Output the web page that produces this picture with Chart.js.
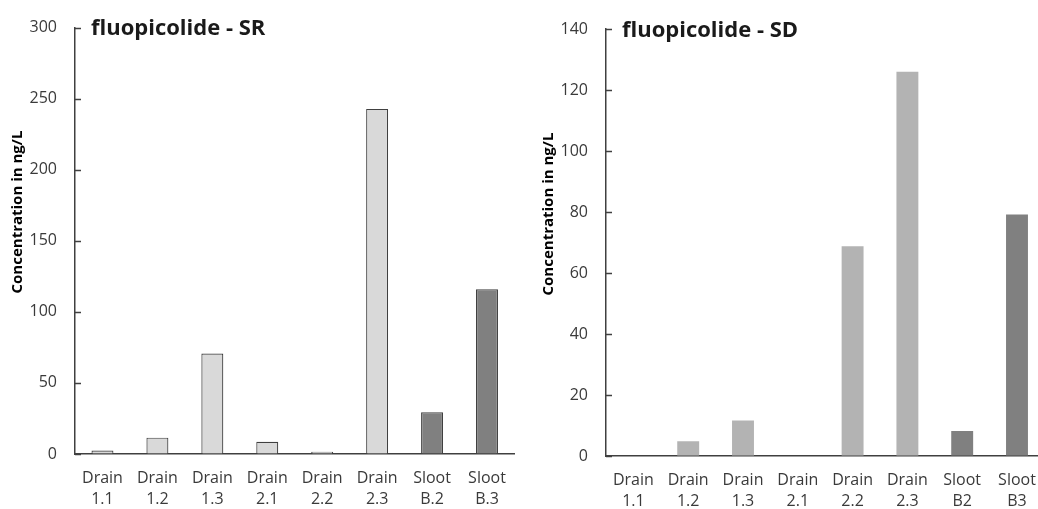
<!DOCTYPE html>
<html>
<head>
<meta charset="utf-8">
<script src="https://cdn.jsdelivr.net/npm/chart.js@4"></script>
<style>
  body { margin: 0; background: #fff; }
  .wrap { display: flex; width: 1038px; height: 509px; overflow: hidden; }
  canvas { display: block; flex: none; }
</style>
</head>
<body>
<div class="wrap">
  <canvas id="chartSR" width="520" height="509"></canvas>
  <canvas id="chartSD" width="530" height="509"></canvas>
</div>
<script>
// data
const srLabels = [['Drain', '1.1'], ['Drain', '1.2'], ['Drain', '1.3'], ['Drain', '2.1'], ['Drain', '2.2'], ['Drain', '2.3'], ['Sloot', 'B.2'], ['Sloot', 'B.3']];
const srValues = [2.4, 11.5, 70.7, 8.6, 1.6, 242.8, 29.3, 115.9];
const srTicks = [0, 50, 100, 150, 200, 250, 300];

const sdLabels = [['Drain', '1.1'], ['Drain', '1.2'], ['Drain', '1.3'], ['Drain', '2.1'], ['Drain', '2.2'], ['Drain', '2.3'], ['Sloot', 'B2'], ['Sloot', 'B3']];
const sdValues = [0, 4.8, 11.6, 0, 68.8, 126, 8.2, 79.2];
const sdTicks = [0, 20, 40, 60, 80, 100, 120, 140];

const FONT = "'Open Sans', 'Noto Sans', sans-serif";
const textColor = '#3a3a3a';
const axisColor = '#404040';

// chart title, y label and inward tick marks
const labelsPlugin = {
    id: 'labels',
    afterDraw(chart, args, opts) {
        const ctx = chart.ctx;
        const area = chart.chartArea;
        const y = chart.scales.y;
        ctx.save();
        ctx.strokeStyle = axisColor;
        ctx.lineWidth = 1.5;
        ctx.beginPath();
        y.ticks.forEach(t => {
            const py = Math.round(y.getPixelForValue(t.value)) + 0.5;
            ctx.moveTo(area.left, py);
            ctx.lineTo(area.left + 6, py);
        });
        ctx.stroke();

        ctx.fillStyle = '#1a1a1a';
        ctx.font = 'bold 22px ' + FONT;
        ctx.textAlign = 'left';
        ctx.textBaseline = 'alphabetic';
        ctx.fillText(opts.title, area.left + 16, opts.titleY);

        ctx.translate(opts.yLabelX, opts.yLabelY);
        ctx.rotate(-Math.PI / 2);
        ctx.font = 'bold 15px ' + FONT;
        ctx.fillStyle = '#000';
        ctx.textAlign = 'center';
        ctx.textBaseline = 'middle';
        ctx.fillText('Concentration in ng/L', 0, 0);
        ctx.restore();
    }
};

function makeChart(id, labels, values, ticks, o) {
    const ctx = document.getElementById(id).getContext('2d');
    return new Chart(ctx, {
        type: 'bar',
        data: {
            labels: labels,
            datasets: [{
                data: values,
                backgroundColor: labels.map(l => l[0] === 'Sloot' ? '#808080' : o.drainColor),
                borderColor: '#404040',
                borderWidth: o.border,
                categoryPercentage: 1,
                barPercentage: 0.4
            }]
        },
        options: {
            responsive: false,
            animation: false,
            layout: { padding: { top: o.top, right: o.right, left: 0, bottom: 0 } },
            plugins: {
                legend: { display: false },
                tooltip: { enabled: false },
                labels: { title: o.title, titleY: o.titleY, yLabelX: o.yLabelX, yLabelY: o.yLabelY }
            },
            scales: {
                x: {
                    grid: { display: false, drawTicks: false },
                    border: { color: axisColor, width: 1.5 },
                    ticks: { color: textColor, font: { family: FONT, size: 16, lineHeight: 1.3 }, padding: 14, maxRotation: 0, autoSkip: false },
                    afterFit: s => { s.height = 509 - o.top - o.plotH; }
                },
                y: {
                    min: 0,
                    max: ticks[ticks.length - 1],
                    afterBuildTicks: s => { s.ticks = ticks.map(v => ({ value: v })); },
                    grid: { drawOnChartArea: false, drawTicks: false },
                    border: { color: axisColor, width: 1.5 },
                    ticks: { color: textColor, font: { family: FONT, size: 16 }, padding: 18 },
                    afterFit: s => { s.width = o.axisW; }
                }
            }
        },
        plugins: [labelsPlugin]
    });
}

makeChart('chartSR', srLabels, srValues, srTicks, {
    drainColor: '#d9d9d9', border: 1.2, top: 27, right: 2, plotH: 427, axisW: 75,
    title: 'fluopicolide - SR', titleY: 35, yLabelX: 18, yLabelY: 212
});
makeChart('chartSD', sdLabels, sdValues, sdTicks, {
    drainColor: '#b3b3b3', border: 0, top: 29, right: 2, plotH: 427, axisW: 86,
    title: 'fluopicolide - SD', titleY: 37, yLabelX: 29, yLabelY: 214
});
</script>
</body>
</html>
